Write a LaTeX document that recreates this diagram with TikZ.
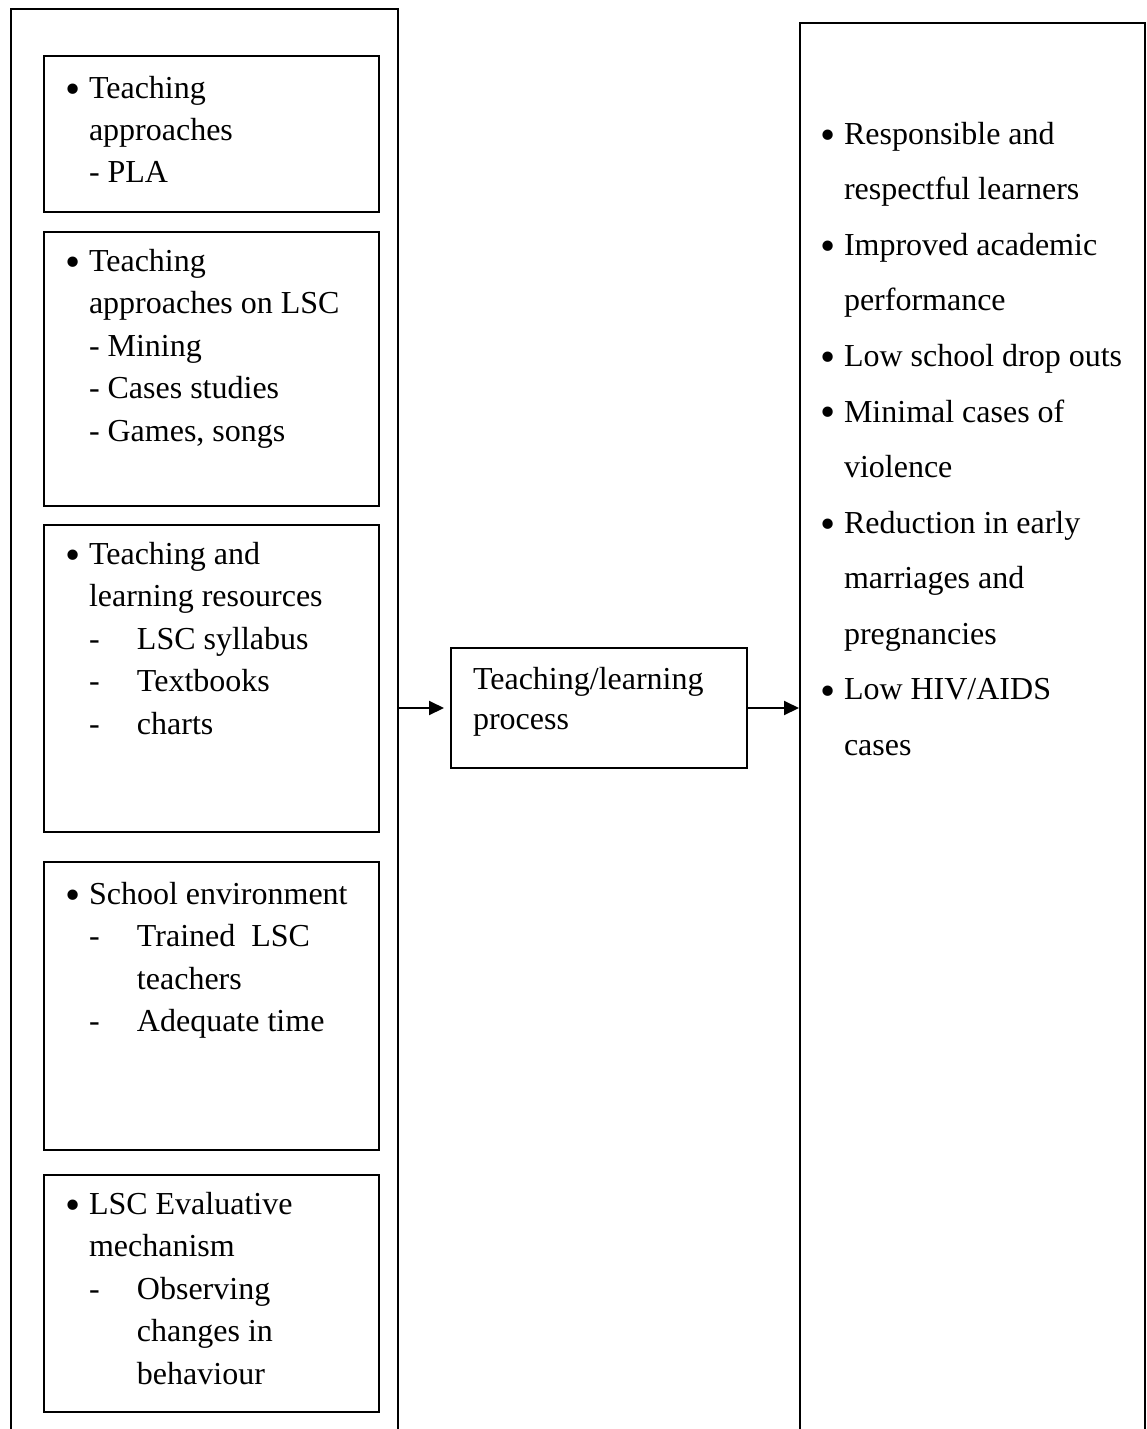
\documentclass[tikz,border=0pt]{standalone}
\usepackage{fontspec}
\setmainfont{Liberation Serif}
\usetikzlibrary{positioning, arrows.meta, calc}

\newcommand{\bul}{\leavevmode\llap{\raisebox{-2.5pt}{\scalebox{1.35}{\textbullet}}\hspace{4.2pt}}}
\newcommand{\dashitem}[1]{\makebox[24pt][l]{-}#1}
\newcommand{\indentline}[1]{\hspace*{24pt}#1}
% #1 height, #2 width, #3 left skip, #4 line skip, #5 first baseline, #6 text
\newcommand{\cellbox}[6]{\parbox[t][#1][t]{#2}{\fontsize{16}{#4}\selectfont
  \raggedright\leftskip=#3\relax\rule{0pt}{#5}#6}}

\begin{document}
\begin{tikzpicture}[x=0.5pt, y=-0.5pt,
    frame/.style={draw, line width=1pt, inner sep=0pt, anchor=north west},
    inbox/.style={frame, minimum width=167.5pt},
    flow/.style={line width=1pt, -{Triangle[length=7.5pt, width=7pt]}}]
  \useasboundingbox (0,0) rectangle (1146,1429);
  \clip (0,0) rectangle (1146,1429);

  % outer frames, cut off at the bottom
  \node[frame, minimum width=193.5pt, minimum height=716pt] (inputs) at (10,8) {};
  \node[frame] (outcomes) at (799,22) {\cellbox{709pt}{172.5pt}{22pt}{27.8pt}{60.5pt}{%
    \bul Responsible and\\respectful learners\\
    \bul Improved academic\\performance\\
    \bul Low school drop outs\\
    \bul Minimal cases of\\violence\\
    \bul Reduction in early\\marriages and\\pregnancies\\
    \bul Low HIV/AIDS\\cases}};

  % input boxes
  \node[inbox] (approach) at (43,55) {\cellbox{78pt}{167.5pt}{22.5pt}{21.25pt}{21pt}{%
    \bul Teaching\\approaches\\- PLA}};
  \node[inbox] (lscapproach) at (43,231) {\cellbox{137pt}{167.5pt}{22.5pt}{21.25pt}{19.5pt}{%
    \bul Teaching\\approaches on LSC\\- Mining\\- Cases studies\\- Games, songs}};
  \node[inbox] (resources) at (43,524) {\cellbox{153.5pt}{167.5pt}{22.5pt}{21.25pt}{19.5pt}{%
    \bul Teaching and\\learning resources\\\dashitem{LSC syllabus}\\
    \dashitem{Textbooks}\\\dashitem{charts}}};
  \node[inbox] (environment) at (43,861) {\cellbox{144pt}{167.5pt}{22.5pt}{21.25pt}{21pt}{%
    \bul School environment\\\dashitem{Trained\ \ LSC}\\\indentline{teachers}\\
    \dashitem{Adequate time}}};
  \node[inbox] (evaluation) at (43,1174) {\cellbox{118.5pt}{167.5pt}{22.5pt}{21.25pt}{19.5pt}{%
    \bul LSC Evaluative\\mechanism\\\dashitem{Observing}\\\indentline{changes in}\\
    \indentline{behaviour}}};

  % process
  \node[frame] (process) at (450,647) {\cellbox{60pt}{148pt}{11pt}{20pt}{20.5pt}{%
    Teaching/learning\\process}};

  \draw[flow, shorten >=3pt] (process.west -| inputs.east) -- (process.west);
  \draw[flow] (process.east) -- (process.east -| outcomes.west);
\end{tikzpicture}
\end{document}
